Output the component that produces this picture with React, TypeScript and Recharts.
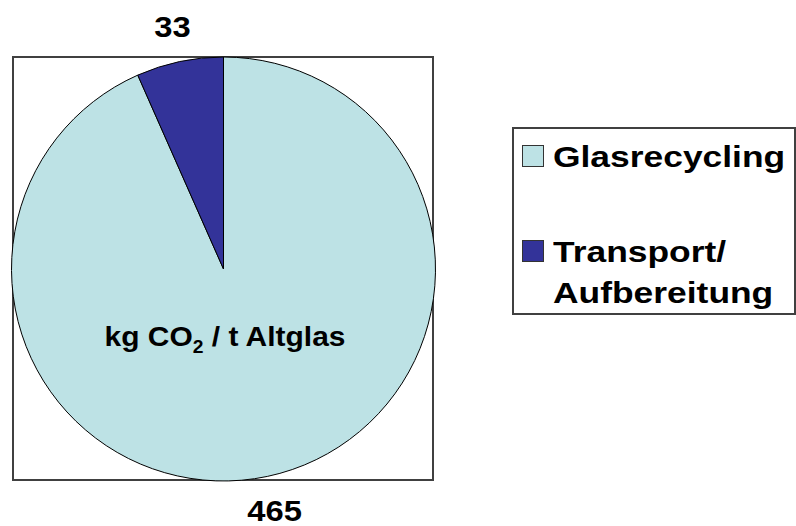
import { Cell, Legend, Pie, PieChart } from 'recharts';

const sliceNames = ['Glasrecycling', 'Transport/ Aufbereitung'];
const sliceValues = [465, 33];
const sliceColors = ['#bde2e5', '#333399'];
const centerCaption = { prefix: 'kg CO', sub: '2', suffix: ' / t Altglas' };

const pieData = sliceNames.map((name, i) => ({ name, value: sliceValues[i] }));

const FONT = '"Liberation Sans", Arial, Helvetica, sans-serif';
const RADIAN = Math.PI / 180;
const PIE_CX = 223.5;
const PIE_CY = 269;
const PIE_R = 212;

const renderValueLabel = (props: any) => {
  const { cx, cy, midAngle, outerRadius, value } = props;
  const r = outerRadius + 35;
  const x = cx + r * Math.cos(-midAngle * RADIAN);
  const y = cy + r * Math.sin(-midAngle * RADIAN);
  return (
    <text
      x={0}
      y={0}
      transform={`translate(${x},${y + 10}) scale(1.13,1)`}
      textAnchor="middle"
      fontFamily={FONT}
      fontSize={29}
      fontWeight="bold"
      fill="#000"
    >
      {value}
    </text>
  );
};

// caption sits inside the big slice, below the centre
const CenterCaption = () => (
  <svg
    width={796}
    height={526}
    style={{ position: 'absolute', left: 0, top: 0, pointerEvents: 'none' }}
  >
    <text
      x={0}
      y={0}
      transform={`translate(${PIE_CX + 1.5},${PIE_CY + 77}) scale(1.07,1)`}
      textAnchor="middle"
      fontFamily={FONT}
      fontSize={28}
      fontWeight="bold"
      fill="#000"
    >
      <tspan>{centerCaption.prefix}</tspan>
      <tspan fontSize={18} dy={7}>
        {centerCaption.sub}
      </tspan>
      <tspan dy={-7}>{centerCaption.suffix}</tspan>
    </text>
  </svg>
);

const renderLegend = () => (
  <div
    style={{
      position: 'relative',
      width: 284,
      height: 188,
      boxSizing: 'border-box',
      border: '2px solid #404040',
      background: '#fff',
      fontFamily: FONT,
    }}
  >
    {sliceNames.map((name, i) => {
      const top = i === 0 ? 7 : 102;
      return (
        <div key={name}>
          <span
            style={{
              position: 'absolute',
              left: 8,
              top: top + 9,
              width: 22,
              height: 22,
              boxSizing: 'border-box',
              border: '1.5px solid #333',
              background: sliceColors[i],
            }}
          />
          <div
            style={{
              position: 'absolute',
              left: 39,
              top,
              fontSize: 30,
              lineHeight: '41px',
              fontWeight: 'bold',
              color: '#000',
              whiteSpace: 'nowrap',
              transform: 'scaleX(1.18)',
              transformOrigin: 'left',
            }}
          >
            {name.split(' ').map((part) => (
              <div key={part}>{part}</div>
            ))}
          </div>
        </div>
      );
    })}
  </div>
);

export default function App() {
  return (
    <div
      style={{
        position: 'absolute',
        left: 0,
        top: 0,
        width: 796,
        height: 526,
        overflow: 'hidden',
        background: '#fff',
      }}
    >
      <div
        style={{
          position: 'absolute',
          left: 12,
          top: 56,
          width: 422,
          height: 425,
          boxSizing: 'border-box',
          border: '2px solid #404040',
        }}
      />
      <div style={{ position: 'absolute', left: 0, top: 0 }}>
        <PieChart width={796} height={526} margin={{ top: 0, right: 0, bottom: 0, left: 0 }}>
          <Pie
            data={pieData}
            dataKey="value"
            nameKey="name"
            cx={PIE_CX}
            cy={PIE_CY}
            outerRadius={PIE_R}
            startAngle={90}
            endAngle={-270}
            stroke="#000"
            strokeWidth={1}
            label={renderValueLabel}
            labelLine={false}
            isAnimationActive={false}
          >
            {pieData.map((entry, i) => (
              <Cell key={entry.name} fill={sliceColors[i]} />
            ))}
          </Pie>
          <Legend
            layout="vertical"
            align="right"
            verticalAlign="top"
            content={renderLegend}
            wrapperStyle={{ position: 'absolute', left: 512, top: 127, width: 284 }}
          />
        </PieChart>
      </div>
      <CenterCaption />
    </div>
  );
}
